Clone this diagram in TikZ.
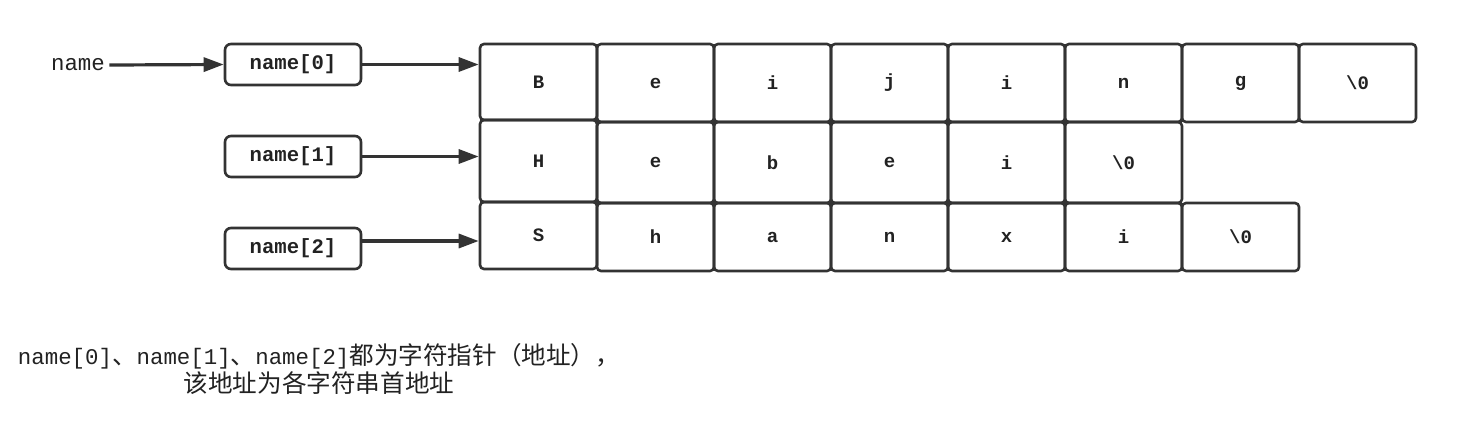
\documentclass[tikz,border=0pt]{standalone}
\usepackage{fontspec}
\setmonofont{Liberation Mono}
\newfontfamily\cjk{Noto Sans CJK SC}
\usetikzlibrary{arrows.meta}
\definecolor{ln}{HTML}{333333}
\definecolor{tx}{HTML}{222222}
\newcommand\zhtxt[1]{{\cjk\fontsize{12.3}{14}\selectfont #1}}
\begin{document}
\begin{tikzpicture}[x=0.5pt,y=-0.5pt,
  cell/.style={draw=ln, line width=1.3pt, rounded corners=2pt, inner sep=0pt,
    minimum width=58.5pt, font=\ttfamily\bfseries\fontsize{9.5}{11}\selectfont, text=tx},
  ptr/.style={draw=ln, line width=1.3pt, rounded corners=3pt, inner sep=0pt,
    minimum width=68pt, minimum height=20.5pt,
    font=\ttfamily\bfseries\fontsize{10.3}{12}\selectfont, text=tx},
  arr/.style={draw=ln, line width=1.6pt, -{Triangle[length=10pt,width=7pt]}},
  lbl/.style={inner sep=2pt, text=tx, font=\ttfamily\fontsize{11.2}{14}\selectfont}]
\useasboundingbox[fill=white] (0,0) rectangle (1465,435);

% row 1
\node[cell, minimum height=38pt] (r1c0) at (538.5,82) {B};
\foreach \t [count=\i] in {e,i,j,i,n,g,{\textbackslash 0}}
  \node[cell, minimum height=39pt] (r1c\i) at ({538.5+117*\i},83) {\t};
% row 2
\node[cell, minimum height=41pt] (r2c0) at (538.5,161) {H};
\foreach \t [count=\i] in {e,b,e,i,{\textbackslash 0}}
  \node[cell, minimum height=40.5pt] (r2c\i) at ({538.5+117*\i},162.5) {\t};
% row 3
\node[cell, minimum height=33.5pt] (r3c0) at (538.5,235.5) {S};
\foreach \t [count=\i] in {h,a,n,x,i,{\textbackslash 0}}
  \node[cell, minimum height=34pt] (r3c\i) at ({538.5+117*\i},237) {\t};

% pointers
\node[lbl] (nm) at (78,65) {name};
\node[ptr] (p0) at (293,64.5) {name[0]};
\node[ptr] (p1) at (293,156.5) {name[1]};
\node[ptr] (p2) at (293,248.5) {name[2]};

\draw[arr] (nm.east) -- (p0.west);
\draw[arr] (p0.east) -- (p0.east -| r1c0.west);
\draw[arr] (p1.east) -- (p1.east -| r2c0.west);
\draw[arr] ([yshift=3.75pt]p2.east) -- ([yshift=3.75pt]p2.east -| r3c0.west);

% caption
\node[lbl, align=center] (cap) at (319,369)
  {name[0]\zhtxt{、}name[1]\zhtxt{、}name[2]\zhtxt{都为字符指针（地址），}\\
   \zhtxt{该地址为各字符串首地址}};
\end{tikzpicture}
\end{document}
